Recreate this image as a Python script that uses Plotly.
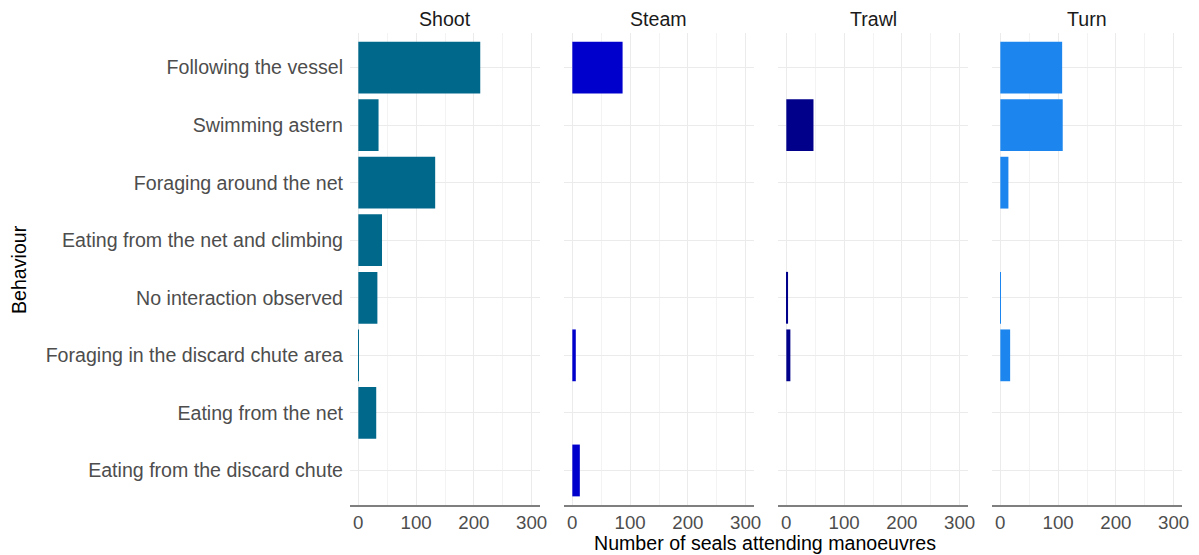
import plotly.graph_objects as go

behaviours = [
    "Following the vessel",
    "Swimming astern",
    "Foraging around the net",
    "Eating from the net and climbing",
    "No interaction observed",
    "Foraging in the discard chute area",
    "Eating from the net",
    "Eating from the discard chute",
]
manoeuvres = ["Shoot", "Steam", "Trawl", "Turn"]
shoot = [211, 35, 133, 41, 33, 1, 31, 0]
steam = [87, 0, 0, 0, 0, 6, 0, 13]
trawl = [0, 47, 0, 0, 3, 7, 0, 0]
turn = [107, 108, 14, 0, 1, 17, 0, 0]
colors = ["#00688B", "#0000CD", "#00008B", "#1C86EE"]
x_ticks = [0, 100, 200, 300]

series = [shoot, steam, trawl, turn]
domains = [(350, 540), (564, 754), (778, 968), (992, 1182)]
W, H = 1199, 555
FONT = "Liberation Sans, Arial, sans-serif"

fig = go.Figure()
for i, (name, vals, col) in enumerate(zip(manoeuvres, series, colors)):
    xa = "x" if i == 0 else f"x{i+1}"
    fig.add_trace(go.Bar(
        x=vals, y=behaviours, orientation="h", marker_color=col,
        marker_line_width=0, width=0.9, xaxis=xa, yaxis="y",
        showlegend=False, name=name,
    ))

grid = "#EBEBEB"
xtickfont = dict(family=FONT, size=18.7, color="#4D4D4D")
ytickfont = dict(family=FONT, size=19.6, color="#4D4D4D")
layout = dict(
    width=W, height=H, margin=dict(l=0, r=0, t=0, b=0),
    plot_bgcolor="white", paper_bgcolor="white", bargap=0.1,
    font=dict(family=FONT),
)
y_dom = [1 - 505 / H, 1 - 33 / H]
for i, (a, b) in enumerate(domains):
    key = "xaxis" if i == 0 else f"xaxis{i+1}"
    layout[key] = dict(
        domain=[a / W, b / W], range=[-14.4, 314.4], anchor="y",
        tickvals=x_ticks, ticktext=[str(t) for t in x_ticks],
        showgrid=True, gridcolor=grid, gridwidth=1,
        minor=dict(tickvals=[50, 150, 250], showgrid=True, gridcolor="#F3F3F3", gridwidth=0.6),
        zeroline=False, showline=True, linecolor="#7F7F7F", linewidth=1.5,
        ticks="", tickfont=xtickfont, fixedrange=True, automargin=False,
    )
layout["yaxis"] = dict(
    domain=y_dom, categoryorder="array", categoryarray=behaviours[::-1],
    range=[-0.6, 7.6], showgrid=True, gridcolor=grid, gridwidth=1,
    zeroline=False, showline=False, ticks="", tickfont=ytickfont,
    ticklabelstandoff=6, fixedrange=True, automargin=False,
)
fig.update_layout(**layout)

anns = []
for (a, b), name in zip(domains, manoeuvres):
    anns.append(dict(x=(a + b) / 2 / W, y=1 - 19 / H, xref="paper", yref="paper",
                     text=name, showarrow=False, xanchor="center", yanchor="middle",
                     font=dict(size=19.6, color="#1A1A1A")))
anns.append(dict(x=765 / W, y=1 - 543 / H, xref="paper", yref="paper",
                 text="Number of seals attending manoeuvres", showarrow=False,
                 xanchor="center", yanchor="middle", font=dict(size=19.6, color="black")))
anns.append(dict(x=19 / W, y=1 - 270 / H, xref="paper", yref="paper",
                 text="Behaviour", showarrow=False, textangle=-90,
                 xanchor="center", yanchor="middle", font=dict(size=19.6, color="black")))
fig.update_layout(annotations=anns)

fig.write_html(
    "out.html", config={"displayModeBar": False},
    post_script=("document.body.style.margin='0';"
                 "document.body.style.overflow='hidden';"
                 "document.documentElement.style.overflow='hidden';"),
)
